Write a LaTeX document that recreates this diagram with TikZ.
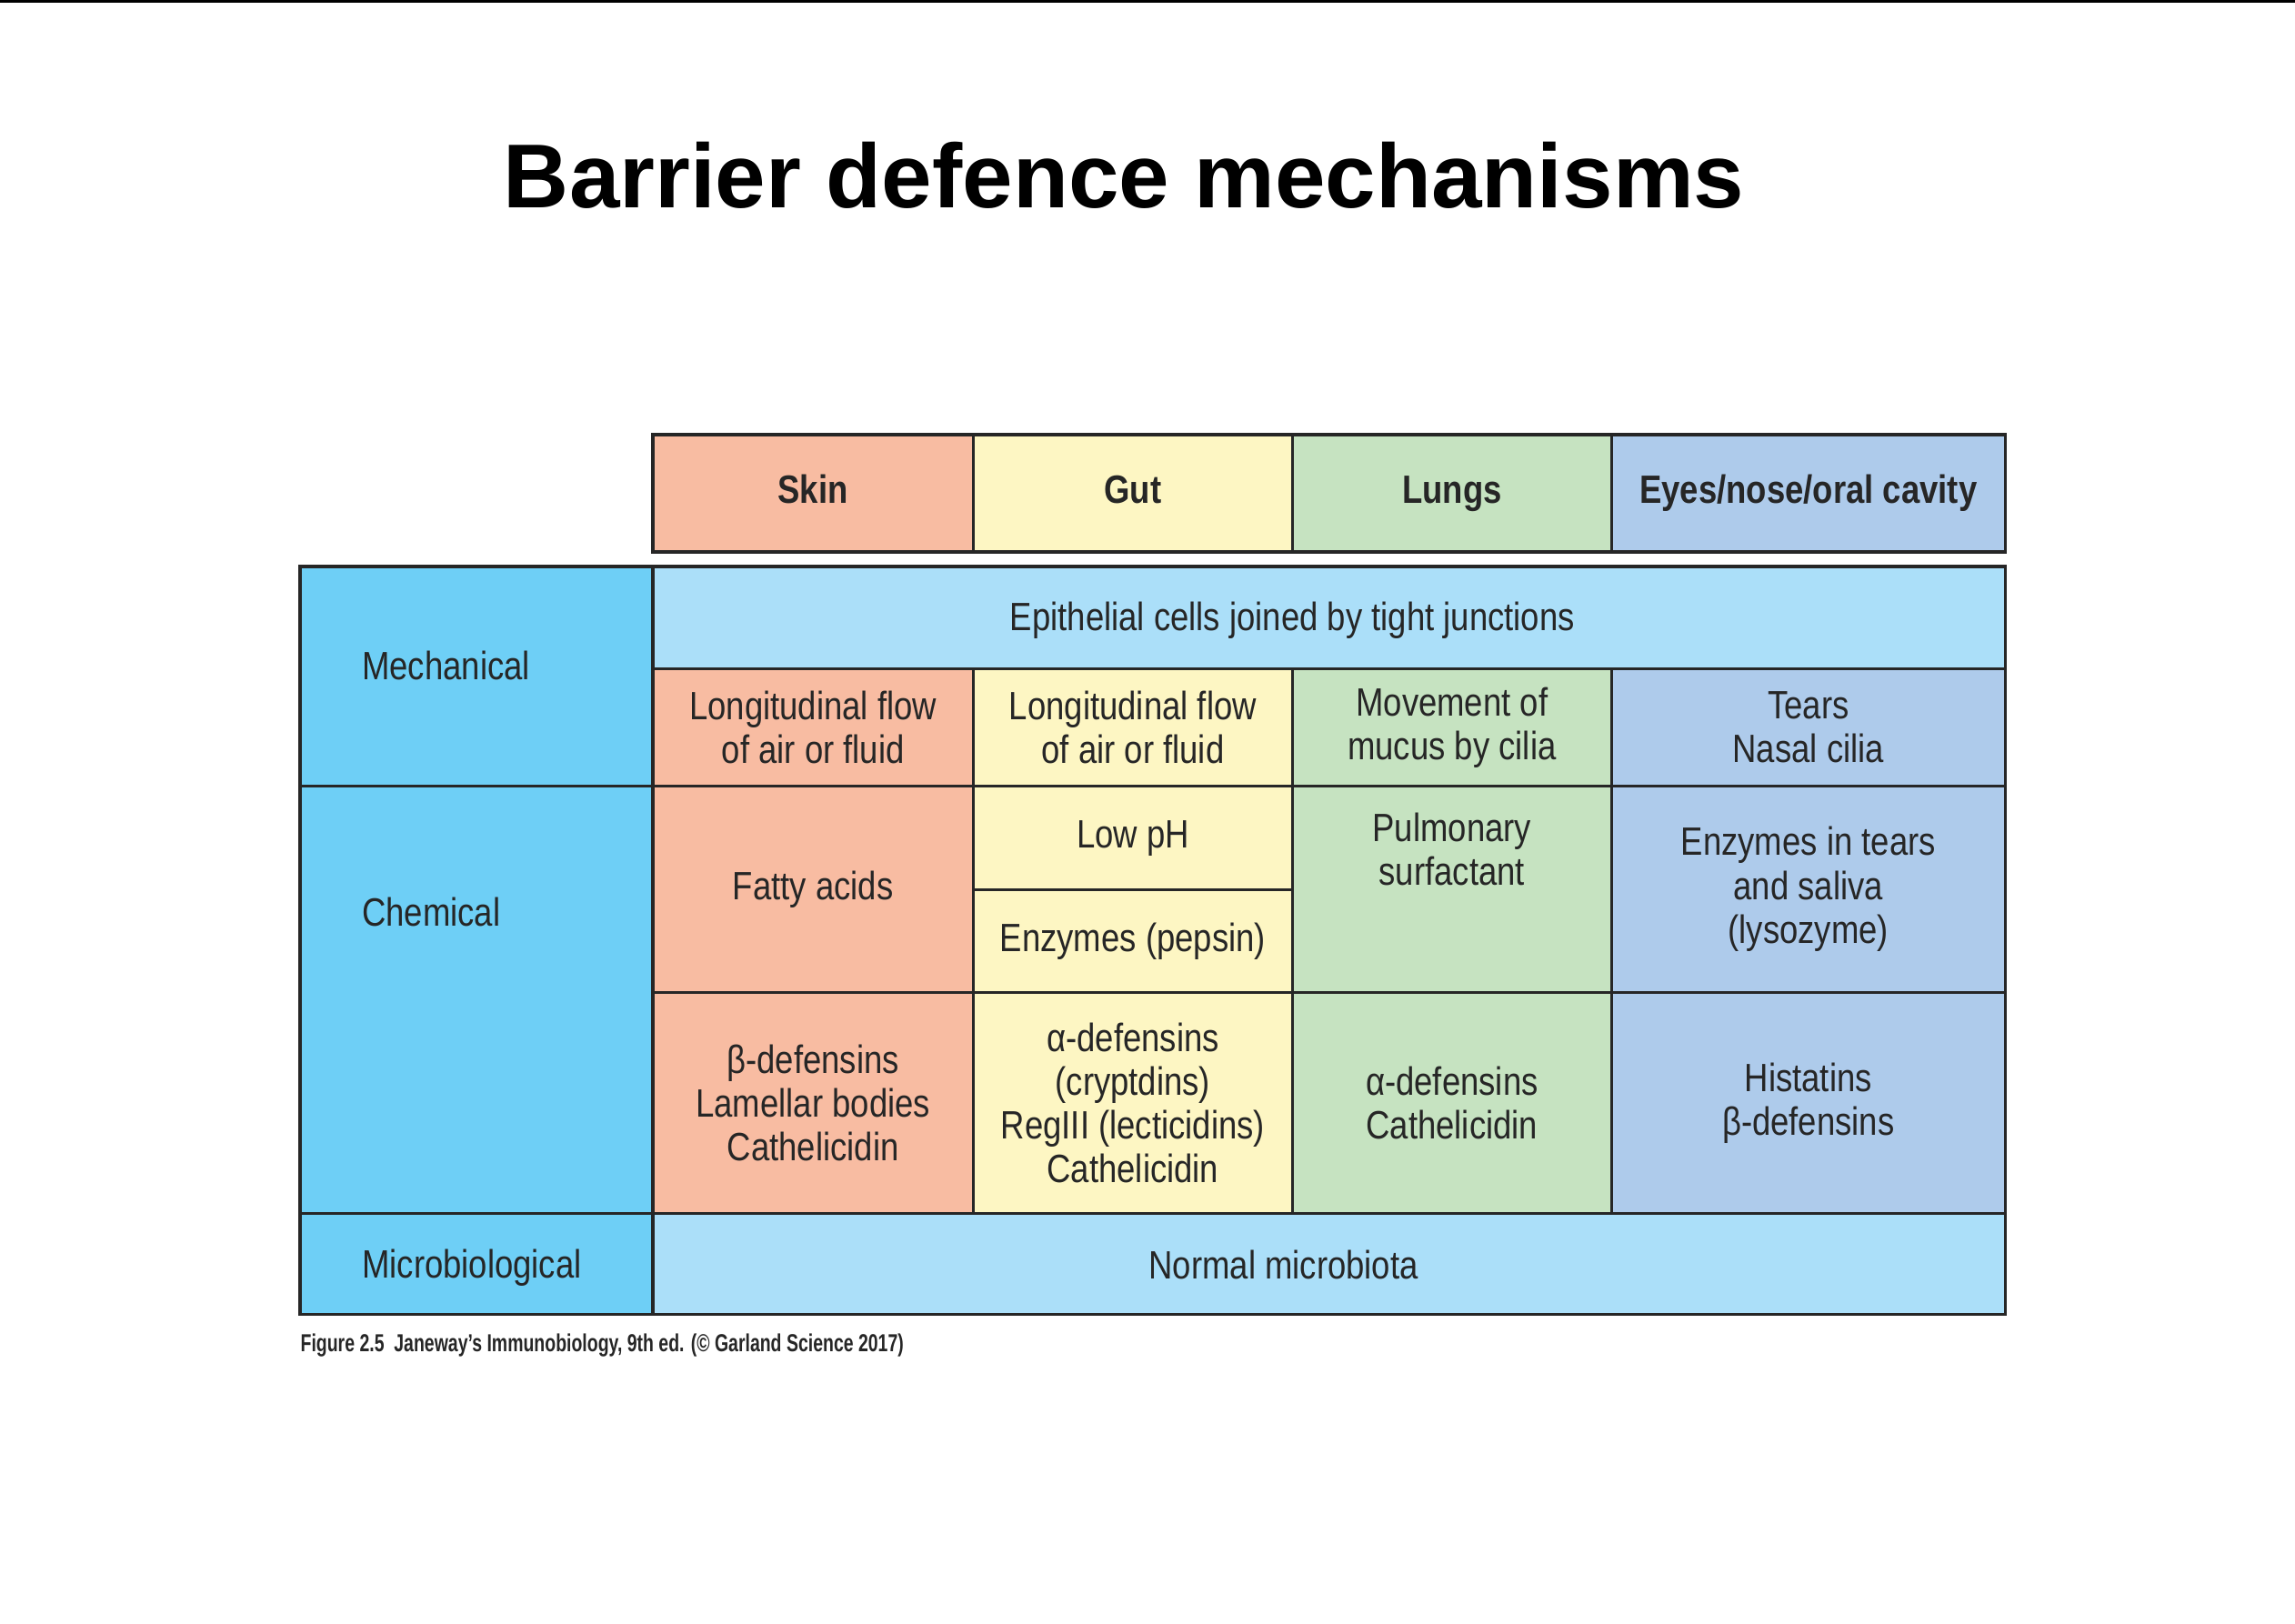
\documentclass[tikz,border=0pt]{standalone}
\usepackage{fontspec}
\setmainfont{Liberation Sans}[FakeStretch=0.84]
\newfontfamily\titlefont{Liberation Sans}
\newfontfamily\capfont{Liberation Sans}[FakeStretch=0.72]
\usetikzlibrary{calc}
\definecolor{skin}{HTML}{F8BCA2}
\definecolor{gut}{HTML}{FDF6C3}
\definecolor{lung}{HTML}{C6E3C1}
\definecolor{eye}{HTML}{AECBEB}
\definecolor{side}{HTML}{6ECFF6}
\definecolor{lite}{HTML}{ABDFF9}
\tikzset{box/.style={draw=black!85,line width=1.1pt},
 txt/.style={font=\fontsize{13.5}{15}\selectfont,align=center,inner sep=0pt,text=black!85},
 hdr/.style={txt,font=\fontsize{13.5}{15}\selectfont\bfseries,text height=10pt,text depth=3pt}}
\newcommand\cellbox[7]{\filldraw[box,fill=#6] (#2,#3) rectangle (#4,#5);
 \node[txt] (#1) at ($(#2,#3)!0.5!(#4,#5)$) {#7};}
\begin{document}
\begin{tikzpicture}[x=0.5pt,y=-0.5pt]
\useasboundingbox (0,0) rectangle (1568,1109);
\draw[line width=0.8pt] (0,1) -- (1568,1);
\node[font=\titlefont\fontsize{31}{34}\selectfont\bfseries] (title) at (768,120) {Barrier defence mechanisms};
% header
\filldraw[box,fill=skin] (446,297) rectangle (665,377); \node[hdr] (hskin) at (555.5,337) {Skin};
\filldraw[box,fill=gut] (665,297) rectangle (883,377); \node[hdr] (hgut) at (774,337) {Gut};
\filldraw[box,fill=lung] (883,297) rectangle (1101,377); \node[hdr] (hlung) at (992,337) {Lungs};
\filldraw[box,fill=eye] (1101,297) rectangle (1370,377); \node[hdr] (heye) at (1235.5,337) {Eyes/nose/oral cavity};
% left column
\filldraw[box,fill=side] (205,387) rectangle (446,537); \node[txt,anchor=west] (mech) at (247,455) {Mechanical};
\filldraw[box,fill=side] (205,537) rectangle (446,829); \node[txt,anchor=west] (chem) at (247,623) {Chemical};
\filldraw[box,fill=side] (205,829) rectangle (446,898); \node[txt,anchor=west] (micro) at (247,866) {Microbiological};
% mechanical
\filldraw[box,fill=lite] (446,387) rectangle (1370,457); \node[txt] (epi) at (883,424) {Epithelial\ cells\ joined\ by\ tight\ junctions};
\cellbox{m1}{446}{457}{665}{537}{skin}{Longitudinal\ flow\\of\ air\ or\ fluid}
\cellbox{m2}{665}{457}{883}{537}{gut}{Longitudinal\ flow\\of\ air\ or\ fluid}
\cellbox{m3}{883}{457}{1101}{537}{lung}{Movement\ of\\mucus\ by\ cilia}
\cellbox{m4}{1101}{457}{1370}{537}{eye}{Tears\\Nasal cilia}
% chemical
\cellbox{c1}{446}{537}{665}{678}{skin}{Fatty acids}
\cellbox{c2a}{665}{537}{883}{608}{gut}{Low pH}
\cellbox{c2b}{665}{608}{883}{678}{gut}{Enzymes (pepsin)}
\filldraw[box,fill=lung] (883,537) rectangle (1101,678); \node[txt] (c3) at (992,580) {Pulmonary\\surfactant};
\cellbox{c4}{1101}{537}{1370}{678}{eye}{Enzymes\ in\ tears\\and saliva\\(lysozyme)}
\cellbox{d1}{446}{678}{665}{829}{skin}{β-defensins\\Lamellar bodies\\Cathelicidin}
\cellbox{d2}{665}{678}{883}{829}{gut}{α-defensins\\(cryptdins)\\RegIII (lecticidins)\\Cathelicidin}
\cellbox{d3}{883}{678}{1101}{829}{lung}{α-defensins\\Cathelicidin}
\cellbox{d4}{1101}{678}{1370}{829}{eye}{Histatins\\β-defensins}
% micro
\filldraw[box,fill=lite] (446,829) rectangle (1370,898); \node[txt] (norm) at (877,864) {Normal\ microbiota};
\node[anchor=west,inner sep=0pt,font=\capfont\fontsize{8.4}{9}\selectfont\bfseries,text=black!85] (cap) at (205,919) {Figure 2.5\ \ Janeway’s Immunobiology, 9th ed. (© Garland Science 2017)};
\end{tikzpicture}
\end{document}
